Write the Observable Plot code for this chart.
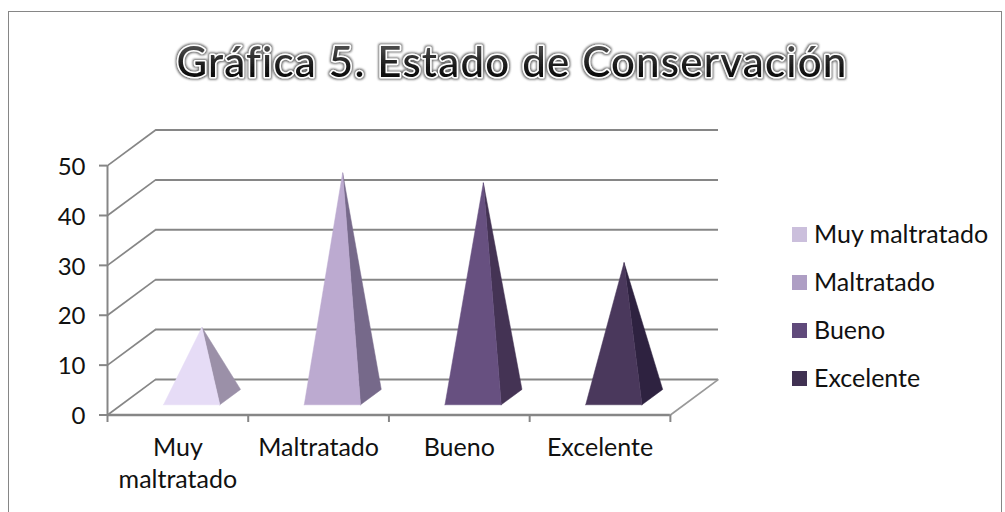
<!DOCTYPE html>
<html lang="es">
<head>
<meta charset="utf-8">
<script src="https://cdn.jsdelivr.net/npm/d3@7"></script>
<script src="https://cdn.jsdelivr.net/npm/@observablehq/plot@0.6"></script>
<style>
html,body{margin:0;padding:0;background:#fff;overflow:hidden;width:1005px;height:512px}
#frame{position:absolute;left:8px;top:11px;width:994px;height:560px;border:1.5px solid #868686;box-sizing:border-box}
#chart{position:absolute;left:0;top:0}
#title{position:absolute;left:0;top:0;width:1005px;height:120px;overflow:visible}
#legend{position:absolute;left:792px;top:209px;font-family:Lato,sans-serif;font-size:25px;color:#111}
.row{display:flex;align-items:center;height:48px;white-space:nowrap}
.sw{width:15px;height:15px;margin-right:7px;flex:none;position:relative;top:1px}
</style>
</head>
<body>
<div id="frame"></div>
<svg id="title" xmlns="http://www.w3.org/2000/svg">
<defs>
<linearGradient id="tg" x1="0" y1="0" x2="0" y2="1">
<stop offset="0" stop-color="#666"/><stop offset=".6" stop-color="#1a1a1a"/><stop offset="1" stop-color="#000"/>
</linearGradient>
<filter id="glow" x="-5%" y="-30%" width="110%" height="160%">
<feMorphology in="SourceAlpha" operator="dilate" radius="0.5" result="d"/>
<feGaussianBlur in="d" stdDeviation="0.8" result="b"/>
<feFlood flood-color="#666"/><feComposite in2="b" operator="in" result="s"/>
<feMerge><feMergeNode in="s"/><feMergeNode in="SourceGraphic"/></feMerge>
</filter>
</defs>
<text x="512" y="77" text-anchor="middle" font-family="Lato,sans-serif" font-size="42" font-weight="500" letter-spacing="1.2"
 fill="url(#tg)" stroke="#fff" stroke-width="3.2" paint-order="stroke" stroke-linejoin="round" filter="url(#glow)">Gráfica 5. Estado de Conservación</text>
</svg>
<div id="chart"></div>
<div id="legend"></div>
<script>
const categories = ["Muy maltratado", "Maltratado", "Bueno", "Excelente"];
const axisLabels = ["Muy\nmaltratado", "Maltratado", "Bueno", "Excelente"];
const values = [14, 45, 43, 27];
const frontColors = ["#E6DCF6", "#BCAAD0", "#675080", "#4A385C"];
const sideColors = ["#9B90A8", "#76698A", "#443354", "#2E2240"];
const legendColors = ["#CBBFDC", "#AE9EC4", "#604A7B", "#403152"];
const yTicks = [0, 10, 20, 30, 40, 50];
const xTicks = [0, 1, 2, 3, 4];

// Oblique projection: one unit of depth in data units
const depthX = 0.342, depthY = 7.14;
const project = (cat, depth, value) => ({x: cat + depth * depthX, y: value + depth * depthY});
const halfWidth = 0.2, depthFront = 0.287, depthBack = 0.718;

const polygon = (pts, fill) => Plot.line([...pts, pts[0]], {x: "x", y: "y", fill, stroke: fill, strokeWidth: 0.5});

const pyramids = values.flatMap((v, i) => {
  const c = i + 0.5;
  const apex = project(c, 0.5, v);
  const fl = project(c - halfWidth, depthFront, 0);
  const fr = project(c + halfWidth, depthFront, 0);
  const br = project(c + halfWidth, depthBack, 0);
  return [polygon([fr, br, apex], sideColors[i]), polygon([fl, fr, apex], frontColors[i])];
});

const grid = "#868686";
const plot = Plot.plot({
  width: 1005, height: 512,
  marginLeft: 107, marginRight: 287, marginTop: 129.5, marginBottom: 97.5,
  x: {type: "linear", domain: [0, 4 + depthX], axis: null},
  y: {type: "linear", domain: [0, 50 + depthY], axis: null},
  style: {background: "transparent", overflow: "visible"},
  marks: [
    Plot.ruleY(yTicks, {y: d => d + depthY, x1: depthX, x2: 4 + depthX, stroke: grid, strokeWidth: 2}),
    Plot.link(yTicks, {x1: 0, y1: d => d, x2: depthX, y2: d => d + depthY, stroke: grid, strokeWidth: 1.7}),
    Plot.link([4], {x1: d => d, y1: 0, x2: d => d + depthX, y2: depthY, stroke: "#999", strokeWidth: 1.7}),
    Plot.ruleX([0], {y1: 0, y2: 50, stroke: grid, strokeWidth: 2}),
    Plot.ruleY([0], {x1: 0, x2: 4, stroke: grid, strokeWidth: 2.4}),
    Plot.ruleX(xTicks, {y1: 0, y2: -1.5, stroke: grid, strokeWidth: 2}),
    Plot.ruleY(yTicks, {y: d => d, x1: -0.057, x2: 0, stroke: grid, strokeWidth: 2}),
    ...pyramids,
    Plot.text(yTicks, {x: 0, y: d => d, text: d => String(d), dx: -22, dy: 1.5, textAnchor: "end",
      fill: "#111", fontSize: 24, fontFamily: "Lato,sans-serif"}),
    Plot.text(axisLabels, {x: (d, i) => i + 0.5, y: 0, text: d => d, dy: 18, lineAnchor: "top",
      textAnchor: "middle", lineHeight: 1.28, fill: "#111", fontSize: 25, fontFamily: "Lato,sans-serif"})
  ]
});
document.getElementById("chart").append(plot);

const legend = d3.select("#legend").selectAll("div").data(categories).join("div").attr("class", "row");
legend.append("span").attr("class", "sw").style("background", (d, i) => legendColors[i]);
legend.append("span").text(d => d);
</script>
</body>
</html>
